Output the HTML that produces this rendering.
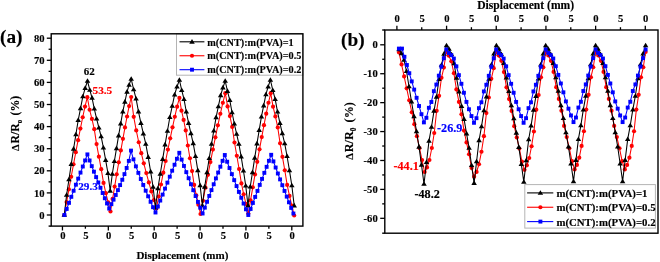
<!DOCTYPE html><html><head><meta charset="utf-8"><style>html,body{margin:0;padding:0;background:#fff;}svg{display:block;filter:blur(0.35px)} text{stroke-width:0.15px}</style></head><body>
<svg width="660" height="262" viewBox="0 0 660 262" font-family='"Liberation Serif", serif' font-weight="bold">
<rect width="660" height="262" fill="#fff"/>
<g clip-path="none">
<path d="M64.3 215L66.6 202.11L68.9 189.36L71.2 176.77L73.5 164.36L75.8 152.16L78.1 140.19L80.4 128.53L82.7 117.26L85 106.56L87.3 97.2L89.62 109.77L91.94 118.92L94.26 129.2L96.58 144.06L98.9 156.64L101.22 169.21L103.54 182.93L105.86 193.21L108.18 202.36L110.5 211.5L112.57 198.97L114.64 186.58L116.71 174.34L118.78 162.28L120.85 150.42L122.92 138.79L124.99 127.45L127.06 116.5L129.13 106.1L131.2 97L133.72 116.85L136.24 130.38L138.76 142.24L141.28 153.13L143.8 163.36L146.32 173.08L148.84 182.41L151.36 191.4L153.88 200.12L156.4 208.6L158.7 196.49L161 184.51L163.3 172.67L165.6 161.01L167.9 149.54L170.2 138.3L172.5 127.34L174.8 116.75L177.1 106.69L179.4 97.9L181.51 110.67L183.62 119.96L185.73 130.41L187.84 145.5L189.95 158.27L192.06 171.04L194.17 184.97L196.28 195.42L198.39 204.71L200.5 214L202.98 200.78L205.46 187.71L207.94 174.8L210.42 162.07L212.9 149.56L215.38 137.29L217.86 125.33L220.34 113.77L222.82 102.8L225.3 93.2L227.6 106.43L229.9 116.06L232.2 126.88L234.5 142.52L236.8 155.76L239.1 168.99L241.4 183.43L243.7 194.25L246 203.88L248.3 213.5L250.54 200.34L252.78 187.32L255.02 174.46L257.26 161.79L259.5 149.32L261.74 137.11L263.98 125.2L266.22 113.68L268.46 102.76L270.7 93.2L273.05 106.65L275.4 116.44L277.75 127.44L280.1 143.34L282.45 156.8L284.8 170.25L287.15 184.93L289.5 195.93L291.85 205.72L294.2 215.5" fill="none" stroke="#ff0000" stroke-width="1.05" stroke-linejoin="round"/>
<circle cx="64.3" cy="215" r="2.1" fill="#ff0000"/>
<circle cx="66.6" cy="202.11" r="2.1" fill="#ff0000"/>
<circle cx="68.9" cy="189.36" r="2.1" fill="#ff0000"/>
<circle cx="71.2" cy="176.77" r="2.1" fill="#ff0000"/>
<circle cx="73.5" cy="164.36" r="2.1" fill="#ff0000"/>
<circle cx="75.8" cy="152.16" r="2.1" fill="#ff0000"/>
<circle cx="78.1" cy="140.19" r="2.1" fill="#ff0000"/>
<circle cx="80.4" cy="128.53" r="2.1" fill="#ff0000"/>
<circle cx="82.7" cy="117.26" r="2.1" fill="#ff0000"/>
<circle cx="85" cy="106.56" r="2.1" fill="#ff0000"/>
<circle cx="87.3" cy="97.2" r="2.1" fill="#ff0000"/>
<circle cx="89.62" cy="109.77" r="2.1" fill="#ff0000"/>
<circle cx="91.94" cy="118.92" r="2.1" fill="#ff0000"/>
<circle cx="94.26" cy="129.2" r="2.1" fill="#ff0000"/>
<circle cx="96.58" cy="144.06" r="2.1" fill="#ff0000"/>
<circle cx="98.9" cy="156.64" r="2.1" fill="#ff0000"/>
<circle cx="101.22" cy="169.21" r="2.1" fill="#ff0000"/>
<circle cx="103.54" cy="182.93" r="2.1" fill="#ff0000"/>
<circle cx="105.86" cy="193.21" r="2.1" fill="#ff0000"/>
<circle cx="108.18" cy="202.36" r="2.1" fill="#ff0000"/>
<circle cx="110.5" cy="211.5" r="2.1" fill="#ff0000"/>
<circle cx="112.57" cy="198.97" r="2.1" fill="#ff0000"/>
<circle cx="114.64" cy="186.58" r="2.1" fill="#ff0000"/>
<circle cx="116.71" cy="174.34" r="2.1" fill="#ff0000"/>
<circle cx="118.78" cy="162.28" r="2.1" fill="#ff0000"/>
<circle cx="120.85" cy="150.42" r="2.1" fill="#ff0000"/>
<circle cx="122.92" cy="138.79" r="2.1" fill="#ff0000"/>
<circle cx="124.99" cy="127.45" r="2.1" fill="#ff0000"/>
<circle cx="127.06" cy="116.5" r="2.1" fill="#ff0000"/>
<circle cx="129.13" cy="106.1" r="2.1" fill="#ff0000"/>
<circle cx="131.2" cy="97" r="2.1" fill="#ff0000"/>
<circle cx="133.72" cy="116.85" r="2.1" fill="#ff0000"/>
<circle cx="136.24" cy="130.38" r="2.1" fill="#ff0000"/>
<circle cx="138.76" cy="142.24" r="2.1" fill="#ff0000"/>
<circle cx="141.28" cy="153.13" r="2.1" fill="#ff0000"/>
<circle cx="143.8" cy="163.36" r="2.1" fill="#ff0000"/>
<circle cx="146.32" cy="173.08" r="2.1" fill="#ff0000"/>
<circle cx="148.84" cy="182.41" r="2.1" fill="#ff0000"/>
<circle cx="151.36" cy="191.4" r="2.1" fill="#ff0000"/>
<circle cx="153.88" cy="200.12" r="2.1" fill="#ff0000"/>
<circle cx="156.4" cy="208.6" r="2.1" fill="#ff0000"/>
<circle cx="158.7" cy="196.49" r="2.1" fill="#ff0000"/>
<circle cx="161" cy="184.51" r="2.1" fill="#ff0000"/>
<circle cx="163.3" cy="172.67" r="2.1" fill="#ff0000"/>
<circle cx="165.6" cy="161.01" r="2.1" fill="#ff0000"/>
<circle cx="167.9" cy="149.54" r="2.1" fill="#ff0000"/>
<circle cx="170.2" cy="138.3" r="2.1" fill="#ff0000"/>
<circle cx="172.5" cy="127.34" r="2.1" fill="#ff0000"/>
<circle cx="174.8" cy="116.75" r="2.1" fill="#ff0000"/>
<circle cx="177.1" cy="106.69" r="2.1" fill="#ff0000"/>
<circle cx="179.4" cy="97.9" r="2.1" fill="#ff0000"/>
<circle cx="181.51" cy="110.67" r="2.1" fill="#ff0000"/>
<circle cx="183.62" cy="119.96" r="2.1" fill="#ff0000"/>
<circle cx="185.73" cy="130.41" r="2.1" fill="#ff0000"/>
<circle cx="187.84" cy="145.5" r="2.1" fill="#ff0000"/>
<circle cx="189.95" cy="158.27" r="2.1" fill="#ff0000"/>
<circle cx="192.06" cy="171.04" r="2.1" fill="#ff0000"/>
<circle cx="194.17" cy="184.97" r="2.1" fill="#ff0000"/>
<circle cx="196.28" cy="195.42" r="2.1" fill="#ff0000"/>
<circle cx="198.39" cy="204.71" r="2.1" fill="#ff0000"/>
<circle cx="200.5" cy="214" r="2.1" fill="#ff0000"/>
<circle cx="202.98" cy="200.78" r="2.1" fill="#ff0000"/>
<circle cx="205.46" cy="187.71" r="2.1" fill="#ff0000"/>
<circle cx="207.94" cy="174.8" r="2.1" fill="#ff0000"/>
<circle cx="210.42" cy="162.07" r="2.1" fill="#ff0000"/>
<circle cx="212.9" cy="149.56" r="2.1" fill="#ff0000"/>
<circle cx="215.38" cy="137.29" r="2.1" fill="#ff0000"/>
<circle cx="217.86" cy="125.33" r="2.1" fill="#ff0000"/>
<circle cx="220.34" cy="113.77" r="2.1" fill="#ff0000"/>
<circle cx="222.82" cy="102.8" r="2.1" fill="#ff0000"/>
<circle cx="225.3" cy="93.2" r="2.1" fill="#ff0000"/>
<circle cx="227.6" cy="106.43" r="2.1" fill="#ff0000"/>
<circle cx="229.9" cy="116.06" r="2.1" fill="#ff0000"/>
<circle cx="232.2" cy="126.88" r="2.1" fill="#ff0000"/>
<circle cx="234.5" cy="142.52" r="2.1" fill="#ff0000"/>
<circle cx="236.8" cy="155.76" r="2.1" fill="#ff0000"/>
<circle cx="239.1" cy="168.99" r="2.1" fill="#ff0000"/>
<circle cx="241.4" cy="183.43" r="2.1" fill="#ff0000"/>
<circle cx="243.7" cy="194.25" r="2.1" fill="#ff0000"/>
<circle cx="246" cy="203.88" r="2.1" fill="#ff0000"/>
<circle cx="248.3" cy="213.5" r="2.1" fill="#ff0000"/>
<circle cx="250.54" cy="200.34" r="2.1" fill="#ff0000"/>
<circle cx="252.78" cy="187.32" r="2.1" fill="#ff0000"/>
<circle cx="255.02" cy="174.46" r="2.1" fill="#ff0000"/>
<circle cx="257.26" cy="161.79" r="2.1" fill="#ff0000"/>
<circle cx="259.5" cy="149.32" r="2.1" fill="#ff0000"/>
<circle cx="261.74" cy="137.11" r="2.1" fill="#ff0000"/>
<circle cx="263.98" cy="125.2" r="2.1" fill="#ff0000"/>
<circle cx="266.22" cy="113.68" r="2.1" fill="#ff0000"/>
<circle cx="268.46" cy="102.76" r="2.1" fill="#ff0000"/>
<circle cx="270.7" cy="93.2" r="2.1" fill="#ff0000"/>
<circle cx="273.05" cy="106.65" r="2.1" fill="#ff0000"/>
<circle cx="275.4" cy="116.44" r="2.1" fill="#ff0000"/>
<circle cx="277.75" cy="127.44" r="2.1" fill="#ff0000"/>
<circle cx="280.1" cy="143.34" r="2.1" fill="#ff0000"/>
<circle cx="282.45" cy="156.8" r="2.1" fill="#ff0000"/>
<circle cx="284.8" cy="170.25" r="2.1" fill="#ff0000"/>
<circle cx="287.15" cy="184.93" r="2.1" fill="#ff0000"/>
<circle cx="289.5" cy="195.93" r="2.1" fill="#ff0000"/>
<circle cx="291.85" cy="205.72" r="2.1" fill="#ff0000"/>
<circle cx="294.2" cy="215.5" r="2.1" fill="#ff0000"/>
<path d="M64.3 215L66.62 194.9L68.94 179.49L71.26 164.08L73.58 148.8L75.9 134.47L78.22 120.13L80.54 108.34L82.86 96.41L85.18 88.1L87.5 81L89.77 89.89L92.04 97.8L94.31 108.78L96.58 118.66L98.85 127.67L101.12 136.45L103.39 147.65L105.66 160.06L107.93 173.23L110.2 190.8L112.3 174.03L114.4 161.17L116.5 148.32L118.6 135.57L120.7 123.61L122.8 111.65L124.9 101.81L127 91.86L129.1 84.93L131.2 79L133.63 89.42L136.06 98.68L138.49 111.54L140.92 123.11L143.35 133.66L145.78 143.94L148.21 157.06L150.64 171.59L153.07 187.02L155.5 207.6L157.89 188.46L160.28 173.79L162.67 159.11L165.06 144.57L167.45 130.91L169.84 117.26L172.23 106.03L174.62 94.67L177.01 86.76L179.4 80L181.7 90.17L184 99.2L186.3 111.75L188.6 123.05L190.9 133.34L193.2 143.38L195.5 156.18L197.8 170.36L200.1 185.42L202.4 205.5L204.68 186.82L206.96 172.51L209.24 158.19L211.52 144L213.8 130.68L216.08 117.35L218.36 106.4L220.64 95.32L222.92 87.6L225.2 81L227.48 91.09L229.76 100.06L232.04 112.52L234.32 123.74L236.6 133.95L238.88 143.92L241.16 156.63L243.44 170.71L245.72 185.66L248 205.6L250.24 186.76L252.48 172.32L254.72 157.87L256.96 143.55L259.2 130.11L261.44 116.68L263.68 105.62L265.92 94.44L268.16 86.66L270.4 80L272.78 90.17L275.16 99.22L277.54 111.78L279.92 123.08L282.3 133.38L284.68 143.43L287.06 156.24L289.44 170.43L291.82 185.5L294.2 205.6" fill="none" stroke="#000" stroke-width="1.05" stroke-linejoin="round"/>
<path d="M64.3 212.24L67.05 216.84L61.55 216.84Z" fill="#000"/>
<path d="M66.62 192.14L69.37 196.74L63.87 196.74Z" fill="#000"/>
<path d="M68.94 176.73L71.69 181.33L66.19 181.33Z" fill="#000"/>
<path d="M71.26 161.32L74.01 165.92L68.51 165.92Z" fill="#000"/>
<path d="M73.58 146.04L76.33 150.64L70.83 150.64Z" fill="#000"/>
<path d="M75.9 131.71L78.65 136.31L73.15 136.31Z" fill="#000"/>
<path d="M78.22 117.37L80.97 121.97L75.47 121.97Z" fill="#000"/>
<path d="M80.54 105.58L83.29 110.18L77.79 110.18Z" fill="#000"/>
<path d="M82.86 93.65L85.61 98.25L80.11 98.25Z" fill="#000"/>
<path d="M85.18 85.34L87.93 89.94L82.43 89.94Z" fill="#000"/>
<path d="M87.5 78.24L90.25 82.84L84.75 82.84Z" fill="#000"/>
<path d="M89.77 87.13L92.52 91.73L87.02 91.73Z" fill="#000"/>
<path d="M92.04 95.04L94.79 99.64L89.29 99.64Z" fill="#000"/>
<path d="M94.31 106.02L97.06 110.62L91.56 110.62Z" fill="#000"/>
<path d="M96.58 115.9L99.33 120.5L93.83 120.5Z" fill="#000"/>
<path d="M98.85 124.91L101.6 129.5L96.1 129.5Z" fill="#000"/>
<path d="M101.12 133.69L103.87 138.29L98.37 138.29Z" fill="#000"/>
<path d="M103.39 144.89L106.14 149.49L100.64 149.49Z" fill="#000"/>
<path d="M105.66 157.3L108.41 161.9L102.91 161.9Z" fill="#000"/>
<path d="M107.93 170.47L110.68 175.07L105.18 175.07Z" fill="#000"/>
<path d="M110.2 188.04L112.95 192.64L107.45 192.64Z" fill="#000"/>
<path d="M112.3 171.27L115.05 175.87L109.55 175.87Z" fill="#000"/>
<path d="M114.4 158.41L117.15 163.01L111.65 163.01Z" fill="#000"/>
<path d="M116.5 145.56L119.25 150.16L113.75 150.16Z" fill="#000"/>
<path d="M118.6 132.81L121.35 137.41L115.85 137.41Z" fill="#000"/>
<path d="M120.7 120.85L123.45 125.45L117.95 125.45Z" fill="#000"/>
<path d="M122.8 108.89L125.55 113.49L120.05 113.49Z" fill="#000"/>
<path d="M124.9 99.05L127.65 103.65L122.15 103.65Z" fill="#000"/>
<path d="M127 89.1L129.75 93.7L124.25 93.7Z" fill="#000"/>
<path d="M129.1 82.17L131.85 86.77L126.35 86.77Z" fill="#000"/>
<path d="M131.2 76.24L133.95 80.84L128.45 80.84Z" fill="#000"/>
<path d="M133.63 86.66L136.38 91.26L130.88 91.26Z" fill="#000"/>
<path d="M136.06 95.92L138.81 100.52L133.31 100.52Z" fill="#000"/>
<path d="M138.49 108.78L141.24 113.38L135.74 113.38Z" fill="#000"/>
<path d="M140.92 120.35L143.67 124.95L138.17 124.95Z" fill="#000"/>
<path d="M143.35 130.9L146.1 135.5L140.6 135.5Z" fill="#000"/>
<path d="M145.78 141.18L148.53 145.78L143.03 145.78Z" fill="#000"/>
<path d="M148.21 154.3L150.96 158.9L145.46 158.9Z" fill="#000"/>
<path d="M150.64 168.83L153.39 173.43L147.89 173.43Z" fill="#000"/>
<path d="M153.07 184.26L155.82 188.86L150.32 188.86Z" fill="#000"/>
<path d="M155.5 204.84L158.25 209.44L152.75 209.44Z" fill="#000"/>
<path d="M157.89 185.7L160.64 190.3L155.14 190.3Z" fill="#000"/>
<path d="M160.28 171.03L163.03 175.63L157.53 175.63Z" fill="#000"/>
<path d="M162.67 156.35L165.42 160.95L159.92 160.95Z" fill="#000"/>
<path d="M165.06 141.81L167.81 146.41L162.31 146.41Z" fill="#000"/>
<path d="M167.45 128.15L170.2 132.75L164.7 132.75Z" fill="#000"/>
<path d="M169.84 114.5L172.59 119.1L167.09 119.1Z" fill="#000"/>
<path d="M172.23 103.27L174.98 107.87L169.48 107.87Z" fill="#000"/>
<path d="M174.62 91.91L177.37 96.51L171.87 96.51Z" fill="#000"/>
<path d="M177.01 84L179.76 88.6L174.26 88.6Z" fill="#000"/>
<path d="M179.4 77.24L182.15 81.84L176.65 81.84Z" fill="#000"/>
<path d="M181.7 87.41L184.45 92.01L178.95 92.01Z" fill="#000"/>
<path d="M184 96.44L186.75 101.04L181.25 101.04Z" fill="#000"/>
<path d="M186.3 108.99L189.05 113.59L183.55 113.59Z" fill="#000"/>
<path d="M188.6 120.29L191.35 124.89L185.85 124.89Z" fill="#000"/>
<path d="M190.9 130.58L193.65 135.18L188.15 135.18Z" fill="#000"/>
<path d="M193.2 140.62L195.95 145.22L190.45 145.22Z" fill="#000"/>
<path d="M195.5 153.42L198.25 158.02L192.75 158.02Z" fill="#000"/>
<path d="M197.8 167.6L200.55 172.2L195.05 172.2Z" fill="#000"/>
<path d="M200.1 182.66L202.85 187.26L197.35 187.26Z" fill="#000"/>
<path d="M202.4 202.74L205.15 207.34L199.65 207.34Z" fill="#000"/>
<path d="M204.68 184.06L207.43 188.66L201.93 188.66Z" fill="#000"/>
<path d="M206.96 169.75L209.71 174.35L204.21 174.35Z" fill="#000"/>
<path d="M209.24 155.43L211.99 160.03L206.49 160.03Z" fill="#000"/>
<path d="M211.52 141.24L214.27 145.84L208.77 145.84Z" fill="#000"/>
<path d="M213.8 127.92L216.55 132.52L211.05 132.52Z" fill="#000"/>
<path d="M216.08 114.59L218.83 119.19L213.33 119.19Z" fill="#000"/>
<path d="M218.36 103.64L221.11 108.24L215.61 108.24Z" fill="#000"/>
<path d="M220.64 92.56L223.39 97.16L217.89 97.16Z" fill="#000"/>
<path d="M222.92 84.84L225.67 89.44L220.17 89.44Z" fill="#000"/>
<path d="M225.2 78.24L227.95 82.84L222.45 82.84Z" fill="#000"/>
<path d="M227.48 88.33L230.23 92.93L224.73 92.93Z" fill="#000"/>
<path d="M229.76 97.3L232.51 101.9L227.01 101.9Z" fill="#000"/>
<path d="M232.04 109.76L234.79 114.36L229.29 114.36Z" fill="#000"/>
<path d="M234.32 120.98L237.07 125.58L231.57 125.58Z" fill="#000"/>
<path d="M236.6 131.19L239.35 135.79L233.85 135.79Z" fill="#000"/>
<path d="M238.88 141.16L241.63 145.76L236.13 145.76Z" fill="#000"/>
<path d="M241.16 153.87L243.91 158.47L238.41 158.47Z" fill="#000"/>
<path d="M243.44 167.95L246.19 172.55L240.69 172.55Z" fill="#000"/>
<path d="M245.72 182.9L248.47 187.5L242.97 187.5Z" fill="#000"/>
<path d="M248 202.84L250.75 207.44L245.25 207.44Z" fill="#000"/>
<path d="M250.24 184L252.99 188.6L247.49 188.6Z" fill="#000"/>
<path d="M252.48 169.56L255.23 174.16L249.73 174.16Z" fill="#000"/>
<path d="M254.72 155.11L257.47 159.71L251.97 159.71Z" fill="#000"/>
<path d="M256.96 140.79L259.71 145.39L254.21 145.39Z" fill="#000"/>
<path d="M259.2 127.35L261.95 131.95L256.45 131.95Z" fill="#000"/>
<path d="M261.44 113.92L264.19 118.52L258.69 118.52Z" fill="#000"/>
<path d="M263.68 102.86L266.43 107.46L260.93 107.46Z" fill="#000"/>
<path d="M265.92 91.68L268.67 96.28L263.17 96.28Z" fill="#000"/>
<path d="M268.16 83.9L270.91 88.5L265.41 88.5Z" fill="#000"/>
<path d="M270.4 77.24L273.15 81.84L267.65 81.84Z" fill="#000"/>
<path d="M272.78 87.41L275.53 92.01L270.03 92.01Z" fill="#000"/>
<path d="M275.16 96.46L277.91 101.06L272.41 101.06Z" fill="#000"/>
<path d="M277.54 109.02L280.29 113.62L274.79 113.62Z" fill="#000"/>
<path d="M279.92 120.32L282.67 124.92L277.17 124.92Z" fill="#000"/>
<path d="M282.3 130.62L285.05 135.22L279.55 135.22Z" fill="#000"/>
<path d="M284.68 140.67L287.43 145.27L281.93 145.27Z" fill="#000"/>
<path d="M287.06 153.48L289.81 158.08L284.31 158.08Z" fill="#000"/>
<path d="M289.44 167.67L292.19 172.27L286.69 172.27Z" fill="#000"/>
<path d="M291.82 182.74L294.57 187.34L289.07 187.34Z" fill="#000"/>
<path d="M294.2 202.84L296.95 207.44L291.45 207.44Z" fill="#000"/>
<path d="M64.4 215L66.7 208.94L69 202.88L71.3 196.82L73.6 190.76L75.9 184.7L78.2 178.64L80.5 172.58L82.8 166.52L85.1 160.46L87.4 154.4L89.58 160.48L91.76 166.15L93.94 171.67L96.12 177.1L98.3 182.46L100.48 187.76L102.66 193.02L104.84 198.25L107.02 203.44L109.2 208.6L111.38 204.19L113.56 199.66L115.74 194.99L117.92 190.14L120.1 185.09L122.28 179.77L124.46 174.11L126.64 167.95L128.82 160.91L131 150.6L133.45 159.34L135.9 166.36L138.35 172.85L140.8 179.01L143.25 184.94L145.7 190.7L148.15 196.31L150.6 201.81L153.05 207.2L155.5 212.5L157.88 206.53L160.26 200.56L162.64 194.59L165.02 188.62L167.4 182.65L169.78 176.68L172.16 170.71L174.54 164.74L176.92 158.77L179.3 152.8L181.63 159.61L183.96 165.96L186.29 172.14L188.62 178.22L190.95 184.22L193.28 190.16L195.61 196.05L197.94 201.9L200.27 207.72L202.6 213.5L204.82 207.65L207.04 201.8L209.26 195.95L211.48 190.1L213.7 184.25L215.92 178.4L218.14 172.55L220.36 166.7L222.58 160.85L224.8 155L227.15 161.73L229.5 168.01L231.85 174.12L234.2 180.13L236.55 186.06L238.9 191.93L241.25 197.76L243.6 203.54L245.95 209.29L248.3 215L250.59 208.98L252.88 202.96L255.17 196.94L257.46 190.92L259.75 184.9L262.04 178.88L264.33 172.86L266.62 166.84L268.91 160.82L271.2 154.8L273.42 161.39L275.64 167.52L277.86 173.5L280.08 179.38L282.3 185.19L284.52 190.93L286.74 196.63L288.96 202.29L291.18 207.91L293.4 213.5" fill="none" stroke="#0000ff" stroke-width="1.05" stroke-linejoin="round"/>
<rect x="62.45" y="213.05" width="3.9" height="3.9" fill="#0000ff"/>
<rect x="64.75" y="206.99" width="3.9" height="3.9" fill="#0000ff"/>
<rect x="67.05" y="200.93" width="3.9" height="3.9" fill="#0000ff"/>
<rect x="69.35" y="194.87" width="3.9" height="3.9" fill="#0000ff"/>
<rect x="71.65" y="188.81" width="3.9" height="3.9" fill="#0000ff"/>
<rect x="73.95" y="182.75" width="3.9" height="3.9" fill="#0000ff"/>
<rect x="76.25" y="176.69" width="3.9" height="3.9" fill="#0000ff"/>
<rect x="78.55" y="170.63" width="3.9" height="3.9" fill="#0000ff"/>
<rect x="80.85" y="164.57" width="3.9" height="3.9" fill="#0000ff"/>
<rect x="83.15" y="158.51" width="3.9" height="3.9" fill="#0000ff"/>
<rect x="85.45" y="152.45" width="3.9" height="3.9" fill="#0000ff"/>
<rect x="87.63" y="158.53" width="3.9" height="3.9" fill="#0000ff"/>
<rect x="89.81" y="164.2" width="3.9" height="3.9" fill="#0000ff"/>
<rect x="91.99" y="169.72" width="3.9" height="3.9" fill="#0000ff"/>
<rect x="94.17" y="175.15" width="3.9" height="3.9" fill="#0000ff"/>
<rect x="96.35" y="180.51" width="3.9" height="3.9" fill="#0000ff"/>
<rect x="98.53" y="185.81" width="3.9" height="3.9" fill="#0000ff"/>
<rect x="100.71" y="191.07" width="3.9" height="3.9" fill="#0000ff"/>
<rect x="102.89" y="196.3" width="3.9" height="3.9" fill="#0000ff"/>
<rect x="105.07" y="201.49" width="3.9" height="3.9" fill="#0000ff"/>
<rect x="107.25" y="206.65" width="3.9" height="3.9" fill="#0000ff"/>
<rect x="109.43" y="202.24" width="3.9" height="3.9" fill="#0000ff"/>
<rect x="111.61" y="197.71" width="3.9" height="3.9" fill="#0000ff"/>
<rect x="113.79" y="193.04" width="3.9" height="3.9" fill="#0000ff"/>
<rect x="115.97" y="188.19" width="3.9" height="3.9" fill="#0000ff"/>
<rect x="118.15" y="183.14" width="3.9" height="3.9" fill="#0000ff"/>
<rect x="120.33" y="177.82" width="3.9" height="3.9" fill="#0000ff"/>
<rect x="122.51" y="172.16" width="3.9" height="3.9" fill="#0000ff"/>
<rect x="124.69" y="166" width="3.9" height="3.9" fill="#0000ff"/>
<rect x="126.87" y="158.96" width="3.9" height="3.9" fill="#0000ff"/>
<rect x="129.05" y="148.65" width="3.9" height="3.9" fill="#0000ff"/>
<rect x="131.5" y="157.39" width="3.9" height="3.9" fill="#0000ff"/>
<rect x="133.95" y="164.41" width="3.9" height="3.9" fill="#0000ff"/>
<rect x="136.4" y="170.9" width="3.9" height="3.9" fill="#0000ff"/>
<rect x="138.85" y="177.06" width="3.9" height="3.9" fill="#0000ff"/>
<rect x="141.3" y="182.99" width="3.9" height="3.9" fill="#0000ff"/>
<rect x="143.75" y="188.75" width="3.9" height="3.9" fill="#0000ff"/>
<rect x="146.2" y="194.36" width="3.9" height="3.9" fill="#0000ff"/>
<rect x="148.65" y="199.86" width="3.9" height="3.9" fill="#0000ff"/>
<rect x="151.1" y="205.25" width="3.9" height="3.9" fill="#0000ff"/>
<rect x="153.55" y="210.55" width="3.9" height="3.9" fill="#0000ff"/>
<rect x="155.93" y="204.58" width="3.9" height="3.9" fill="#0000ff"/>
<rect x="158.31" y="198.61" width="3.9" height="3.9" fill="#0000ff"/>
<rect x="160.69" y="192.64" width="3.9" height="3.9" fill="#0000ff"/>
<rect x="163.07" y="186.67" width="3.9" height="3.9" fill="#0000ff"/>
<rect x="165.45" y="180.7" width="3.9" height="3.9" fill="#0000ff"/>
<rect x="167.83" y="174.73" width="3.9" height="3.9" fill="#0000ff"/>
<rect x="170.21" y="168.76" width="3.9" height="3.9" fill="#0000ff"/>
<rect x="172.59" y="162.79" width="3.9" height="3.9" fill="#0000ff"/>
<rect x="174.97" y="156.82" width="3.9" height="3.9" fill="#0000ff"/>
<rect x="177.35" y="150.85" width="3.9" height="3.9" fill="#0000ff"/>
<rect x="179.68" y="157.66" width="3.9" height="3.9" fill="#0000ff"/>
<rect x="182.01" y="164.01" width="3.9" height="3.9" fill="#0000ff"/>
<rect x="184.34" y="170.19" width="3.9" height="3.9" fill="#0000ff"/>
<rect x="186.67" y="176.27" width="3.9" height="3.9" fill="#0000ff"/>
<rect x="189" y="182.27" width="3.9" height="3.9" fill="#0000ff"/>
<rect x="191.33" y="188.21" width="3.9" height="3.9" fill="#0000ff"/>
<rect x="193.66" y="194.1" width="3.9" height="3.9" fill="#0000ff"/>
<rect x="195.99" y="199.95" width="3.9" height="3.9" fill="#0000ff"/>
<rect x="198.32" y="205.77" width="3.9" height="3.9" fill="#0000ff"/>
<rect x="200.65" y="211.55" width="3.9" height="3.9" fill="#0000ff"/>
<rect x="202.87" y="205.7" width="3.9" height="3.9" fill="#0000ff"/>
<rect x="205.09" y="199.85" width="3.9" height="3.9" fill="#0000ff"/>
<rect x="207.31" y="194" width="3.9" height="3.9" fill="#0000ff"/>
<rect x="209.53" y="188.15" width="3.9" height="3.9" fill="#0000ff"/>
<rect x="211.75" y="182.3" width="3.9" height="3.9" fill="#0000ff"/>
<rect x="213.97" y="176.45" width="3.9" height="3.9" fill="#0000ff"/>
<rect x="216.19" y="170.6" width="3.9" height="3.9" fill="#0000ff"/>
<rect x="218.41" y="164.75" width="3.9" height="3.9" fill="#0000ff"/>
<rect x="220.63" y="158.9" width="3.9" height="3.9" fill="#0000ff"/>
<rect x="222.85" y="153.05" width="3.9" height="3.9" fill="#0000ff"/>
<rect x="225.2" y="159.78" width="3.9" height="3.9" fill="#0000ff"/>
<rect x="227.55" y="166.06" width="3.9" height="3.9" fill="#0000ff"/>
<rect x="229.9" y="172.17" width="3.9" height="3.9" fill="#0000ff"/>
<rect x="232.25" y="178.18" width="3.9" height="3.9" fill="#0000ff"/>
<rect x="234.6" y="184.11" width="3.9" height="3.9" fill="#0000ff"/>
<rect x="236.95" y="189.98" width="3.9" height="3.9" fill="#0000ff"/>
<rect x="239.3" y="195.81" width="3.9" height="3.9" fill="#0000ff"/>
<rect x="241.65" y="201.59" width="3.9" height="3.9" fill="#0000ff"/>
<rect x="244" y="207.34" width="3.9" height="3.9" fill="#0000ff"/>
<rect x="246.35" y="213.05" width="3.9" height="3.9" fill="#0000ff"/>
<rect x="248.64" y="207.03" width="3.9" height="3.9" fill="#0000ff"/>
<rect x="250.93" y="201.01" width="3.9" height="3.9" fill="#0000ff"/>
<rect x="253.22" y="194.99" width="3.9" height="3.9" fill="#0000ff"/>
<rect x="255.51" y="188.97" width="3.9" height="3.9" fill="#0000ff"/>
<rect x="257.8" y="182.95" width="3.9" height="3.9" fill="#0000ff"/>
<rect x="260.09" y="176.93" width="3.9" height="3.9" fill="#0000ff"/>
<rect x="262.38" y="170.91" width="3.9" height="3.9" fill="#0000ff"/>
<rect x="264.67" y="164.89" width="3.9" height="3.9" fill="#0000ff"/>
<rect x="266.96" y="158.87" width="3.9" height="3.9" fill="#0000ff"/>
<rect x="269.25" y="152.85" width="3.9" height="3.9" fill="#0000ff"/>
<rect x="271.47" y="159.44" width="3.9" height="3.9" fill="#0000ff"/>
<rect x="273.69" y="165.57" width="3.9" height="3.9" fill="#0000ff"/>
<rect x="275.91" y="171.55" width="3.9" height="3.9" fill="#0000ff"/>
<rect x="278.13" y="177.43" width="3.9" height="3.9" fill="#0000ff"/>
<rect x="280.35" y="183.24" width="3.9" height="3.9" fill="#0000ff"/>
<rect x="282.57" y="188.98" width="3.9" height="3.9" fill="#0000ff"/>
<rect x="284.79" y="194.68" width="3.9" height="3.9" fill="#0000ff"/>
<rect x="287.01" y="200.34" width="3.9" height="3.9" fill="#0000ff"/>
<rect x="289.23" y="205.96" width="3.9" height="3.9" fill="#0000ff"/>
<rect x="291.45" y="211.55" width="3.9" height="3.9" fill="#0000ff"/>
</g>
<rect x="176.5" y="33.8" width="126.39999999999998" height="41.400000000000006" fill="#fff" stroke="#b4b4b4" stroke-width="1"/>
<line x1="179.5" y1="41.8" x2="204.4" y2="41.8" stroke="#000" stroke-width="1.1"/>
<path d="M192 39.04L194.75 43.64L189.25 43.64Z" fill="#000"/>
<text x="207.2" y="45.5" font-size="10.25" text-anchor="start" fill="#000" stroke="#000" >m(CNT):m(PVA)=1</text>
<line x1="179.5" y1="55.75" x2="204.4" y2="55.75" stroke="#ff0000" stroke-width="1.1"/>
<circle cx="192" cy="55.75" r="2.1" fill="#ff0000"/>
<text x="207.2" y="59.45" font-size="10.25" text-anchor="start" fill="#000" stroke="#000" >m(CNT):m(PVA)=0.5</text>
<line x1="179.5" y1="69.7" x2="204.4" y2="69.7" stroke="#0000ff" stroke-width="1.1"/>
<rect x="190.05" y="67.75" width="3.9" height="3.9" fill="#0000ff"/>
<text x="207.2" y="73.4" font-size="10.25" text-anchor="start" fill="#000" stroke="#000" >m(CNT):m(PVA)=0.2</text>
<rect x="51.2" y="33.8" width="251.7" height="192.3" fill="none" stroke="#000" stroke-width="1.4"/>
<line x1="46.8" y1="215" x2="51.2" y2="215" stroke="#000" stroke-width="1.3"/>
<text x="44.6" y="218.6" font-size="10.6" text-anchor="end" fill="#000" stroke="#000" >0</text>
<line x1="46.8" y1="192.9" x2="51.2" y2="192.9" stroke="#000" stroke-width="1.3"/>
<text x="44.6" y="196.5" font-size="10.6" text-anchor="end" fill="#000" stroke="#000" >10</text>
<line x1="46.8" y1="170.8" x2="51.2" y2="170.8" stroke="#000" stroke-width="1.3"/>
<text x="44.6" y="174.4" font-size="10.6" text-anchor="end" fill="#000" stroke="#000" >20</text>
<line x1="46.8" y1="148.7" x2="51.2" y2="148.7" stroke="#000" stroke-width="1.3"/>
<text x="44.6" y="152.3" font-size="10.6" text-anchor="end" fill="#000" stroke="#000" >30</text>
<line x1="46.8" y1="126.6" x2="51.2" y2="126.6" stroke="#000" stroke-width="1.3"/>
<text x="44.6" y="130.2" font-size="10.6" text-anchor="end" fill="#000" stroke="#000" >40</text>
<line x1="46.8" y1="104.5" x2="51.2" y2="104.5" stroke="#000" stroke-width="1.3"/>
<text x="44.6" y="108.1" font-size="10.6" text-anchor="end" fill="#000" stroke="#000" >50</text>
<line x1="46.8" y1="82.4" x2="51.2" y2="82.4" stroke="#000" stroke-width="1.3"/>
<text x="44.6" y="86" font-size="10.6" text-anchor="end" fill="#000" stroke="#000" >60</text>
<line x1="46.8" y1="60.3" x2="51.2" y2="60.3" stroke="#000" stroke-width="1.3"/>
<text x="44.6" y="63.9" font-size="10.6" text-anchor="end" fill="#000" stroke="#000" >70</text>
<line x1="46.8" y1="38.2" x2="51.2" y2="38.2" stroke="#000" stroke-width="1.3"/>
<text x="44.6" y="41.8" font-size="10.6" text-anchor="end" fill="#000" stroke="#000" >80</text>
<line x1="48.6" y1="226.1" x2="51.2" y2="226.1" stroke="#000" stroke-width="1.4"/>
<line x1="48.6" y1="203.95" x2="51.2" y2="203.95" stroke="#000" stroke-width="1.3"/>
<line x1="48.6" y1="181.85" x2="51.2" y2="181.85" stroke="#000" stroke-width="1.3"/>
<line x1="48.6" y1="159.75" x2="51.2" y2="159.75" stroke="#000" stroke-width="1.3"/>
<line x1="48.6" y1="137.65" x2="51.2" y2="137.65" stroke="#000" stroke-width="1.3"/>
<line x1="48.6" y1="115.55" x2="51.2" y2="115.55" stroke="#000" stroke-width="1.3"/>
<line x1="48.6" y1="93.45" x2="51.2" y2="93.45" stroke="#000" stroke-width="1.3"/>
<line x1="48.6" y1="71.35" x2="51.2" y2="71.35" stroke="#000" stroke-width="1.3"/>
<line x1="48.6" y1="49.25" x2="51.2" y2="49.25" stroke="#000" stroke-width="1.3"/>
<line x1="62.45" y1="226.1" x2="62.45" y2="230.5" stroke="#000" stroke-width="1.3"/>
<text x="62.85" y="239.1" font-size="10.6" text-anchor="middle" fill="#000" stroke="#000" >0</text>
<line x1="85.39" y1="226.1" x2="85.39" y2="228.7" stroke="#000" stroke-width="1.3"/>
<text x="85.79" y="239.1" font-size="10.6" text-anchor="middle" fill="#000" stroke="#000" >5</text>
<line x1="108.32" y1="226.1" x2="108.32" y2="230.5" stroke="#000" stroke-width="1.3"/>
<text x="108.72" y="239.1" font-size="10.6" text-anchor="middle" fill="#000" stroke="#000" >0</text>
<line x1="131.25" y1="226.1" x2="131.25" y2="228.7" stroke="#000" stroke-width="1.3"/>
<text x="131.66" y="239.1" font-size="10.6" text-anchor="middle" fill="#000" stroke="#000" >5</text>
<line x1="154.19" y1="226.1" x2="154.19" y2="230.5" stroke="#000" stroke-width="1.3"/>
<text x="154.59" y="239.1" font-size="10.6" text-anchor="middle" fill="#000" stroke="#000" >0</text>
<line x1="177.12" y1="226.1" x2="177.12" y2="228.7" stroke="#000" stroke-width="1.3"/>
<text x="177.53" y="239.1" font-size="10.6" text-anchor="middle" fill="#000" stroke="#000" >5</text>
<line x1="200.06" y1="226.1" x2="200.06" y2="230.5" stroke="#000" stroke-width="1.3"/>
<text x="200.46" y="239.1" font-size="10.6" text-anchor="middle" fill="#000" stroke="#000" >0</text>
<line x1="223" y1="226.1" x2="223" y2="228.7" stroke="#000" stroke-width="1.3"/>
<text x="223.4" y="239.1" font-size="10.6" text-anchor="middle" fill="#000" stroke="#000" >5</text>
<line x1="245.93" y1="226.1" x2="245.93" y2="230.5" stroke="#000" stroke-width="1.3"/>
<text x="246.33" y="239.1" font-size="10.6" text-anchor="middle" fill="#000" stroke="#000" >0</text>
<line x1="268.87" y1="226.1" x2="268.87" y2="228.7" stroke="#000" stroke-width="1.3"/>
<text x="269.26" y="239.1" font-size="10.6" text-anchor="middle" fill="#000" stroke="#000" >5</text>
<line x1="291.8" y1="226.1" x2="291.8" y2="230.5" stroke="#000" stroke-width="1.3"/>
<text x="292.2" y="239.1" font-size="10.6" text-anchor="middle" fill="#000" stroke="#000" >0</text>
<text x="136.4" y="259" font-size="11" text-anchor="start" fill="#000" stroke="#000" >Displacement (mm)</text>
<text x="0" y="43" font-size="19.3" text-anchor="start" fill="#000" stroke="#000" >(a)</text>
<text transform="translate(19.2,151.0) rotate(-90)" font-size="11.8" stroke="#000"><tspan font-size="10.6">Δ</tspan><tspan dx="0.9">R/R</tspan><tspan font-size="7" dy="2.9">0</tspan><tspan dy="-2.9" dx="1.2"> (%)</tspan></text>
<text x="89.2" y="75.2" font-size="11" text-anchor="middle" fill="#000" stroke="#000" >62</text>
<text x="92.5" y="93.6" font-size="11.3" text-anchor="start" fill="#ff0000" stroke="#ff0000" >53.5</text>
<text x="78.2" y="189.9" font-size="11.2" text-anchor="start" fill="#0000ff" stroke="#0000ff" >29.3</text>
<path d="M399 52.5L401.56 64.45L404.12 76.4L406.68 88.35L409.24 100.3L411.8 112.25L414.36 124.2L416.92 136.15L419.48 148.1L422.04 160.05L424.6 172L427.01 167.44L429.42 160L431.83 148L434.24 133L436.66 110.8L439.07 95.8L441.48 77.8L443.89 67.6L446.3 52L448.83 55.74L451.35 61.35L453.88 73.2L456.41 89.41L458.94 101.88L461.46 114.35L463.99 130.56L466.52 142.41L469.05 154.25L471.57 167.97L474.1 176.7L476.56 171.96L479.01 164.23L481.47 151.76L483.92 136.17L486.38 113.1L488.83 97.52L491.29 78.81L493.74 68.21L496.2 52L498.77 55.53L501.35 60.84L503.92 72.03L506.49 87.34L509.06 99.12L511.64 110.9L514.21 126.21L516.78 137.41L519.35 148.6L521.93 161.55L524.5 169.8L526.86 165.32L529.21 158.02L531.57 146.24L533.92 131.52L536.28 109.72L538.63 95L540.99 77.33L543.34 67.31L545.7 52L548.33 55.52L550.95 60.8L553.58 71.96L556.21 87.22L558.84 98.96L561.46 110.7L564.09 125.96L566.72 137.12L569.35 148.27L571.97 161.18L574.6 169.4L576.93 164.94L579.27 157.66L581.6 145.92L583.93 131.25L586.27 109.53L588.6 94.85L590.93 77.24L593.27 67.26L595.6 52L598.25 55.52L600.91 60.8L603.56 71.96L606.22 87.22L608.87 98.96L611.53 110.7L614.18 125.96L616.84 137.12L619.49 148.27L622.15 161.18L624.8 169.4L627.11 164.94L629.42 157.66L631.73 145.92L634.04 131.25L636.36 109.53L638.67 94.85L640.98 77.24L643.29 67.26L645.6 52" fill="none" stroke="#ff0000" stroke-width="1.05" stroke-linejoin="round"/>
<circle cx="399" cy="52.5" r="2.1" fill="#ff0000"/>
<circle cx="401.56" cy="64.45" r="2.1" fill="#ff0000"/>
<circle cx="404.12" cy="76.4" r="2.1" fill="#ff0000"/>
<circle cx="406.68" cy="88.35" r="2.1" fill="#ff0000"/>
<circle cx="409.24" cy="100.3" r="2.1" fill="#ff0000"/>
<circle cx="411.8" cy="112.25" r="2.1" fill="#ff0000"/>
<circle cx="414.36" cy="124.2" r="2.1" fill="#ff0000"/>
<circle cx="416.92" cy="136.15" r="2.1" fill="#ff0000"/>
<circle cx="419.48" cy="148.1" r="2.1" fill="#ff0000"/>
<circle cx="422.04" cy="160.05" r="2.1" fill="#ff0000"/>
<circle cx="424.6" cy="172" r="2.1" fill="#ff0000"/>
<circle cx="427.01" cy="167.44" r="2.1" fill="#ff0000"/>
<circle cx="429.42" cy="160" r="2.1" fill="#ff0000"/>
<circle cx="431.83" cy="148" r="2.1" fill="#ff0000"/>
<circle cx="434.24" cy="133" r="2.1" fill="#ff0000"/>
<circle cx="436.66" cy="110.8" r="2.1" fill="#ff0000"/>
<circle cx="439.07" cy="95.8" r="2.1" fill="#ff0000"/>
<circle cx="441.48" cy="77.8" r="2.1" fill="#ff0000"/>
<circle cx="443.89" cy="67.6" r="2.1" fill="#ff0000"/>
<circle cx="446.3" cy="52" r="2.1" fill="#ff0000"/>
<circle cx="448.83" cy="55.74" r="2.1" fill="#ff0000"/>
<circle cx="451.35" cy="61.35" r="2.1" fill="#ff0000"/>
<circle cx="453.88" cy="73.2" r="2.1" fill="#ff0000"/>
<circle cx="456.41" cy="89.41" r="2.1" fill="#ff0000"/>
<circle cx="458.94" cy="101.88" r="2.1" fill="#ff0000"/>
<circle cx="461.46" cy="114.35" r="2.1" fill="#ff0000"/>
<circle cx="463.99" cy="130.56" r="2.1" fill="#ff0000"/>
<circle cx="466.52" cy="142.41" r="2.1" fill="#ff0000"/>
<circle cx="469.05" cy="154.25" r="2.1" fill="#ff0000"/>
<circle cx="471.57" cy="167.97" r="2.1" fill="#ff0000"/>
<circle cx="474.1" cy="176.7" r="2.1" fill="#ff0000"/>
<circle cx="476.56" cy="171.96" r="2.1" fill="#ff0000"/>
<circle cx="479.01" cy="164.23" r="2.1" fill="#ff0000"/>
<circle cx="481.47" cy="151.76" r="2.1" fill="#ff0000"/>
<circle cx="483.92" cy="136.17" r="2.1" fill="#ff0000"/>
<circle cx="486.38" cy="113.1" r="2.1" fill="#ff0000"/>
<circle cx="488.83" cy="97.52" r="2.1" fill="#ff0000"/>
<circle cx="491.29" cy="78.81" r="2.1" fill="#ff0000"/>
<circle cx="493.74" cy="68.21" r="2.1" fill="#ff0000"/>
<circle cx="496.2" cy="52" r="2.1" fill="#ff0000"/>
<circle cx="498.77" cy="55.53" r="2.1" fill="#ff0000"/>
<circle cx="501.35" cy="60.84" r="2.1" fill="#ff0000"/>
<circle cx="503.92" cy="72.03" r="2.1" fill="#ff0000"/>
<circle cx="506.49" cy="87.34" r="2.1" fill="#ff0000"/>
<circle cx="509.06" cy="99.12" r="2.1" fill="#ff0000"/>
<circle cx="511.64" cy="110.9" r="2.1" fill="#ff0000"/>
<circle cx="514.21" cy="126.21" r="2.1" fill="#ff0000"/>
<circle cx="516.78" cy="137.41" r="2.1" fill="#ff0000"/>
<circle cx="519.35" cy="148.6" r="2.1" fill="#ff0000"/>
<circle cx="521.93" cy="161.55" r="2.1" fill="#ff0000"/>
<circle cx="524.5" cy="169.8" r="2.1" fill="#ff0000"/>
<circle cx="526.86" cy="165.32" r="2.1" fill="#ff0000"/>
<circle cx="529.21" cy="158.02" r="2.1" fill="#ff0000"/>
<circle cx="531.57" cy="146.24" r="2.1" fill="#ff0000"/>
<circle cx="533.92" cy="131.52" r="2.1" fill="#ff0000"/>
<circle cx="536.28" cy="109.72" r="2.1" fill="#ff0000"/>
<circle cx="538.63" cy="95" r="2.1" fill="#ff0000"/>
<circle cx="540.99" cy="77.33" r="2.1" fill="#ff0000"/>
<circle cx="543.34" cy="67.31" r="2.1" fill="#ff0000"/>
<circle cx="545.7" cy="52" r="2.1" fill="#ff0000"/>
<circle cx="548.33" cy="55.52" r="2.1" fill="#ff0000"/>
<circle cx="550.95" cy="60.8" r="2.1" fill="#ff0000"/>
<circle cx="553.58" cy="71.96" r="2.1" fill="#ff0000"/>
<circle cx="556.21" cy="87.22" r="2.1" fill="#ff0000"/>
<circle cx="558.84" cy="98.96" r="2.1" fill="#ff0000"/>
<circle cx="561.46" cy="110.7" r="2.1" fill="#ff0000"/>
<circle cx="564.09" cy="125.96" r="2.1" fill="#ff0000"/>
<circle cx="566.72" cy="137.12" r="2.1" fill="#ff0000"/>
<circle cx="569.35" cy="148.27" r="2.1" fill="#ff0000"/>
<circle cx="571.97" cy="161.18" r="2.1" fill="#ff0000"/>
<circle cx="574.6" cy="169.4" r="2.1" fill="#ff0000"/>
<circle cx="576.93" cy="164.94" r="2.1" fill="#ff0000"/>
<circle cx="579.27" cy="157.66" r="2.1" fill="#ff0000"/>
<circle cx="581.6" cy="145.92" r="2.1" fill="#ff0000"/>
<circle cx="583.93" cy="131.25" r="2.1" fill="#ff0000"/>
<circle cx="586.27" cy="109.53" r="2.1" fill="#ff0000"/>
<circle cx="588.6" cy="94.85" r="2.1" fill="#ff0000"/>
<circle cx="590.93" cy="77.24" r="2.1" fill="#ff0000"/>
<circle cx="593.27" cy="67.26" r="2.1" fill="#ff0000"/>
<circle cx="595.6" cy="52" r="2.1" fill="#ff0000"/>
<circle cx="598.25" cy="55.52" r="2.1" fill="#ff0000"/>
<circle cx="600.91" cy="60.8" r="2.1" fill="#ff0000"/>
<circle cx="603.56" cy="71.96" r="2.1" fill="#ff0000"/>
<circle cx="606.22" cy="87.22" r="2.1" fill="#ff0000"/>
<circle cx="608.87" cy="98.96" r="2.1" fill="#ff0000"/>
<circle cx="611.53" cy="110.7" r="2.1" fill="#ff0000"/>
<circle cx="614.18" cy="125.96" r="2.1" fill="#ff0000"/>
<circle cx="616.84" cy="137.12" r="2.1" fill="#ff0000"/>
<circle cx="619.49" cy="148.27" r="2.1" fill="#ff0000"/>
<circle cx="622.15" cy="161.18" r="2.1" fill="#ff0000"/>
<circle cx="624.8" cy="169.4" r="2.1" fill="#ff0000"/>
<circle cx="627.11" cy="164.94" r="2.1" fill="#ff0000"/>
<circle cx="629.42" cy="157.66" r="2.1" fill="#ff0000"/>
<circle cx="631.73" cy="145.92" r="2.1" fill="#ff0000"/>
<circle cx="634.04" cy="131.25" r="2.1" fill="#ff0000"/>
<circle cx="636.36" cy="109.53" r="2.1" fill="#ff0000"/>
<circle cx="638.67" cy="94.85" r="2.1" fill="#ff0000"/>
<circle cx="640.98" cy="77.24" r="2.1" fill="#ff0000"/>
<circle cx="643.29" cy="67.26" r="2.1" fill="#ff0000"/>
<circle cx="645.6" cy="52" r="2.1" fill="#ff0000"/>
<path d="M399 49.5L401.5 53.4L404 59.99L406.5 71.22L409 86.49L411.5 101.62L414 116.35L416.5 131.34L419 146.88L421.5 164.83L424 184L426.5 162.26L429 140.93L431.5 126.94L434 110.87L436.5 96.88L439 79.16L441.5 64.89L444 53.81L446.5 45.5L449.01 48.94L451.52 54.44L454.03 63.39L456.54 77.84L459.05 91.6L461.55 106.04L464.06 119.12L466.57 133.56L469.08 148.01L471.59 165.21L474.1 183.1L476.58 161.5L479.06 140.31L481.53 126.41L484.01 110.45L486.49 96.55L488.97 78.94L491.44 64.76L493.92 53.76L496.4 45.5L498.89 48.91L501.38 54.37L503.87 63.23L506.36 77.55L508.85 91.19L511.35 105.52L513.84 118.47L516.33 132.8L518.82 147.12L521.31 164.17L523.8 181.9L526.23 160.49L528.67 139.48L531.1 125.7L533.53 109.88L535.97 96.1L538.4 78.65L540.83 64.6L543.27 53.68L545.7 45.5L548.23 48.9L550.75 54.33L553.28 63.17L555.81 77.44L558.34 91.03L560.86 105.3L563.39 118.21L565.92 132.48L568.45 146.75L570.97 163.73L573.5 181.4L575.96 160.06L578.41 139.14L580.87 125.41L583.32 109.64L585.78 95.92L588.23 78.52L590.69 64.53L593.14 53.65L595.6 45.5L598.05 48.9L600.51 54.33L602.96 63.17L605.42 77.44L607.87 91.03L610.33 105.3L612.78 118.21L615.24 132.48L617.69 146.75L620.15 163.73L622.6 181.4L625.16 160.06L627.71 139.14L630.27 125.41L632.82 109.64L635.38 95.92L637.93 78.52L640.49 64.53L643.04 53.65L645.6 45.5" fill="none" stroke="#000" stroke-width="1.05" stroke-linejoin="round"/>
<path d="M399 46.74L401.75 51.34L396.25 51.34Z" fill="#000"/>
<path d="M401.5 50.64L404.25 55.24L398.75 55.24Z" fill="#000"/>
<path d="M404 57.23L406.75 61.83L401.25 61.83Z" fill="#000"/>
<path d="M406.5 68.46L409.25 73.06L403.75 73.06Z" fill="#000"/>
<path d="M409 83.73L411.75 88.33L406.25 88.33Z" fill="#000"/>
<path d="M411.5 98.86L414.25 103.46L408.75 103.46Z" fill="#000"/>
<path d="M414 113.59L416.75 118.19L411.25 118.19Z" fill="#000"/>
<path d="M416.5 128.58L419.25 133.18L413.75 133.18Z" fill="#000"/>
<path d="M419 144.12L421.75 148.72L416.25 148.72Z" fill="#000"/>
<path d="M421.5 162.07L424.25 166.67L418.75 166.67Z" fill="#000"/>
<path d="M424 181.24L426.75 185.84L421.25 185.84Z" fill="#000"/>
<path d="M426.5 159.5L429.25 164.1L423.75 164.1Z" fill="#000"/>
<path d="M429 138.17L431.75 142.77L426.25 142.77Z" fill="#000"/>
<path d="M431.5 124.18L434.25 128.78L428.75 128.78Z" fill="#000"/>
<path d="M434 108.11L436.75 112.71L431.25 112.71Z" fill="#000"/>
<path d="M436.5 94.12L439.25 98.72L433.75 98.72Z" fill="#000"/>
<path d="M439 76.4L441.75 81L436.25 81Z" fill="#000"/>
<path d="M441.5 62.13L444.25 66.73L438.75 66.73Z" fill="#000"/>
<path d="M444 51.05L446.75 55.65L441.25 55.65Z" fill="#000"/>
<path d="M446.5 42.74L449.25 47.34L443.75 47.34Z" fill="#000"/>
<path d="M449.01 46.18L451.76 50.78L446.26 50.78Z" fill="#000"/>
<path d="M451.52 51.68L454.27 56.28L448.77 56.28Z" fill="#000"/>
<path d="M454.03 60.63L456.78 65.23L451.28 65.23Z" fill="#000"/>
<path d="M456.54 75.08L459.29 79.68L453.79 79.68Z" fill="#000"/>
<path d="M459.05 88.84L461.8 93.44L456.3 93.44Z" fill="#000"/>
<path d="M461.55 103.28L464.3 107.88L458.8 107.88Z" fill="#000"/>
<path d="M464.06 116.36L466.81 120.96L461.31 120.96Z" fill="#000"/>
<path d="M466.57 130.8L469.32 135.4L463.82 135.4Z" fill="#000"/>
<path d="M469.08 145.25L471.83 149.85L466.33 149.85Z" fill="#000"/>
<path d="M471.59 162.45L474.34 167.05L468.84 167.05Z" fill="#000"/>
<path d="M474.1 180.34L476.85 184.94L471.35 184.94Z" fill="#000"/>
<path d="M476.58 158.74L479.33 163.34L473.83 163.34Z" fill="#000"/>
<path d="M479.06 137.55L481.81 142.15L476.31 142.15Z" fill="#000"/>
<path d="M481.53 123.65L484.28 128.25L478.78 128.25Z" fill="#000"/>
<path d="M484.01 107.69L486.76 112.29L481.26 112.29Z" fill="#000"/>
<path d="M486.49 93.79L489.24 98.39L483.74 98.39Z" fill="#000"/>
<path d="M488.97 76.18L491.72 80.78L486.22 80.78Z" fill="#000"/>
<path d="M491.44 62L494.19 66.6L488.69 66.6Z" fill="#000"/>
<path d="M493.92 51L496.67 55.6L491.17 55.6Z" fill="#000"/>
<path d="M496.4 42.74L499.15 47.34L493.65 47.34Z" fill="#000"/>
<path d="M498.89 46.15L501.64 50.75L496.14 50.75Z" fill="#000"/>
<path d="M501.38 51.61L504.13 56.21L498.63 56.21Z" fill="#000"/>
<path d="M503.87 60.47L506.62 65.07L501.12 65.07Z" fill="#000"/>
<path d="M506.36 74.79L509.11 79.39L503.61 79.39Z" fill="#000"/>
<path d="M508.85 88.43L511.6 93.03L506.1 93.03Z" fill="#000"/>
<path d="M511.35 102.76L514.1 107.36L508.6 107.36Z" fill="#000"/>
<path d="M513.84 115.71L516.59 120.31L511.09 120.31Z" fill="#000"/>
<path d="M516.33 130.04L519.08 134.64L513.58 134.64Z" fill="#000"/>
<path d="M518.82 144.36L521.57 148.96L516.07 148.96Z" fill="#000"/>
<path d="M521.31 161.41L524.06 166.01L518.56 166.01Z" fill="#000"/>
<path d="M523.8 179.14L526.55 183.74L521.05 183.74Z" fill="#000"/>
<path d="M526.23 157.73L528.98 162.33L523.48 162.33Z" fill="#000"/>
<path d="M528.67 136.72L531.42 141.32L525.92 141.32Z" fill="#000"/>
<path d="M531.1 122.94L533.85 127.54L528.35 127.54Z" fill="#000"/>
<path d="M533.53 107.12L536.28 111.72L530.78 111.72Z" fill="#000"/>
<path d="M535.97 93.34L538.72 97.94L533.22 97.94Z" fill="#000"/>
<path d="M538.4 75.89L541.15 80.49L535.65 80.49Z" fill="#000"/>
<path d="M540.83 61.84L543.58 66.44L538.08 66.44Z" fill="#000"/>
<path d="M543.27 50.92L546.02 55.52L540.52 55.52Z" fill="#000"/>
<path d="M545.7 42.74L548.45 47.34L542.95 47.34Z" fill="#000"/>
<path d="M548.23 46.14L550.98 50.74L545.48 50.74Z" fill="#000"/>
<path d="M550.75 51.57L553.5 56.17L548 56.17Z" fill="#000"/>
<path d="M553.28 60.41L556.03 65.01L550.53 65.01Z" fill="#000"/>
<path d="M555.81 74.68L558.56 79.28L553.06 79.28Z" fill="#000"/>
<path d="M558.34 88.27L561.09 92.87L555.59 92.87Z" fill="#000"/>
<path d="M560.86 102.54L563.61 107.14L558.11 107.14Z" fill="#000"/>
<path d="M563.39 115.45L566.14 120.05L560.64 120.05Z" fill="#000"/>
<path d="M565.92 129.72L568.67 134.32L563.17 134.32Z" fill="#000"/>
<path d="M568.45 143.99L571.2 148.59L565.7 148.59Z" fill="#000"/>
<path d="M570.97 160.97L573.72 165.57L568.22 165.57Z" fill="#000"/>
<path d="M573.5 178.64L576.25 183.24L570.75 183.24Z" fill="#000"/>
<path d="M575.96 157.3L578.71 161.9L573.21 161.9Z" fill="#000"/>
<path d="M578.41 136.38L581.16 140.98L575.66 140.98Z" fill="#000"/>
<path d="M580.87 122.65L583.62 127.25L578.12 127.25Z" fill="#000"/>
<path d="M583.32 106.88L586.07 111.48L580.57 111.48Z" fill="#000"/>
<path d="M585.78 93.16L588.53 97.76L583.03 97.76Z" fill="#000"/>
<path d="M588.23 75.76L590.98 80.36L585.48 80.36Z" fill="#000"/>
<path d="M590.69 61.77L593.44 66.37L587.94 66.37Z" fill="#000"/>
<path d="M593.14 50.89L595.89 55.49L590.39 55.49Z" fill="#000"/>
<path d="M595.6 42.74L598.35 47.34L592.85 47.34Z" fill="#000"/>
<path d="M598.05 46.14L600.8 50.74L595.3 50.74Z" fill="#000"/>
<path d="M600.51 51.57L603.26 56.17L597.76 56.17Z" fill="#000"/>
<path d="M602.96 60.41L605.71 65.01L600.21 65.01Z" fill="#000"/>
<path d="M605.42 74.68L608.17 79.28L602.67 79.28Z" fill="#000"/>
<path d="M607.87 88.27L610.62 92.87L605.12 92.87Z" fill="#000"/>
<path d="M610.33 102.54L613.08 107.14L607.58 107.14Z" fill="#000"/>
<path d="M612.78 115.45L615.53 120.05L610.03 120.05Z" fill="#000"/>
<path d="M615.24 129.72L617.99 134.32L612.49 134.32Z" fill="#000"/>
<path d="M617.69 143.99L620.44 148.59L614.94 148.59Z" fill="#000"/>
<path d="M620.15 160.97L622.9 165.57L617.4 165.57Z" fill="#000"/>
<path d="M622.6 178.64L625.35 183.24L619.85 183.24Z" fill="#000"/>
<path d="M625.16 157.3L627.91 161.9L622.41 161.9Z" fill="#000"/>
<path d="M627.71 136.38L630.46 140.98L624.96 140.98Z" fill="#000"/>
<path d="M630.27 122.65L633.02 127.25L627.52 127.25Z" fill="#000"/>
<path d="M632.82 106.88L635.57 111.48L630.07 111.48Z" fill="#000"/>
<path d="M635.38 93.16L638.13 97.76L632.63 97.76Z" fill="#000"/>
<path d="M637.93 75.76L640.68 80.36L635.18 80.36Z" fill="#000"/>
<path d="M640.49 61.77L643.24 66.37L637.74 66.37Z" fill="#000"/>
<path d="M643.04 50.89L645.79 55.49L640.29 55.49Z" fill="#000"/>
<path d="M645.6 42.74L648.35 47.34L642.85 47.34Z" fill="#000"/>
<path d="M398.9 48.6L402 48.6L404.43 56.8L406.87 65L409.3 73.2L411.73 81.4L414.17 89.6L416.6 97.8L419.03 106L421.47 114.2L423.9 122.4L426.39 117.81L428.88 107.82L431.37 101.99L433.86 91.2L436.34 84.56L438.83 75.67L441.32 66.63L443.81 58.18L446.3 49.5L448.82 52.95L451.34 55.14L453.85 58.59L456.37 66.36L458.89 75.16L461.41 83.8L463.93 92.75L466.45 101.91L468.96 109.24L471.48 116.06L474 122.8L476.47 118.18L478.93 108.14L481.4 102.28L483.87 91.43L486.33 84.76L488.8 75.81L491.27 66.73L493.73 58.22L496.2 49.5L498.69 52.95L501.18 55.14L503.67 58.59L506.16 66.36L508.65 75.16L511.15 83.8L513.64 92.75L516.13 101.91L518.62 109.24L521.11 116.06L523.6 122.8L526.06 118.18L528.51 108.14L530.97 102.28L533.42 91.43L535.88 84.76L538.33 75.81L540.79 66.73L543.24 58.22L545.7 49.5L548.23 52.91L550.75 55.09L553.28 58.5L555.81 66.2L558.34 74.91L560.86 83.48L563.39 92.33L565.92 101.41L568.45 108.67L570.97 115.42L573.5 122.1L575.96 117.53L578.41 107.58L580.87 101.77L583.32 91.03L585.78 84.42L588.23 75.56L590.69 66.56L593.14 58.14L595.6 49.5L598.05 52.91L600.51 55.09L602.96 58.5L605.42 66.2L607.87 74.91L610.33 83.48L612.78 92.33L615.24 101.41L617.69 108.67L620.15 115.42L622.6 122.1L625.16 117.53L627.71 107.58L630.27 101.77L632.82 91.03L635.38 84.42L637.93 75.56L640.49 66.56L643.04 58.14L645.6 49.5" fill="none" stroke="#0000ff" stroke-width="1.05" stroke-linejoin="round"/>
<rect x="396.95" y="46.65" width="3.9" height="3.9" fill="#0000ff"/>
<rect x="400.05" y="46.65" width="3.9" height="3.9" fill="#0000ff"/>
<rect x="402.48" y="54.85" width="3.9" height="3.9" fill="#0000ff"/>
<rect x="404.92" y="63.05" width="3.9" height="3.9" fill="#0000ff"/>
<rect x="407.35" y="71.25" width="3.9" height="3.9" fill="#0000ff"/>
<rect x="409.78" y="79.45" width="3.9" height="3.9" fill="#0000ff"/>
<rect x="412.22" y="87.65" width="3.9" height="3.9" fill="#0000ff"/>
<rect x="414.65" y="95.85" width="3.9" height="3.9" fill="#0000ff"/>
<rect x="417.08" y="104.05" width="3.9" height="3.9" fill="#0000ff"/>
<rect x="419.52" y="112.25" width="3.9" height="3.9" fill="#0000ff"/>
<rect x="421.95" y="120.45" width="3.9" height="3.9" fill="#0000ff"/>
<rect x="424.44" y="115.86" width="3.9" height="3.9" fill="#0000ff"/>
<rect x="426.93" y="105.87" width="3.9" height="3.9" fill="#0000ff"/>
<rect x="429.42" y="100.04" width="3.9" height="3.9" fill="#0000ff"/>
<rect x="431.91" y="89.25" width="3.9" height="3.9" fill="#0000ff"/>
<rect x="434.39" y="82.61" width="3.9" height="3.9" fill="#0000ff"/>
<rect x="436.88" y="73.72" width="3.9" height="3.9" fill="#0000ff"/>
<rect x="439.37" y="64.68" width="3.9" height="3.9" fill="#0000ff"/>
<rect x="441.86" y="56.23" width="3.9" height="3.9" fill="#0000ff"/>
<rect x="444.35" y="47.55" width="3.9" height="3.9" fill="#0000ff"/>
<rect x="446.87" y="51" width="3.9" height="3.9" fill="#0000ff"/>
<rect x="449.39" y="53.19" width="3.9" height="3.9" fill="#0000ff"/>
<rect x="451.9" y="56.64" width="3.9" height="3.9" fill="#0000ff"/>
<rect x="454.42" y="64.41" width="3.9" height="3.9" fill="#0000ff"/>
<rect x="456.94" y="73.2" width="3.9" height="3.9" fill="#0000ff"/>
<rect x="459.46" y="81.85" width="3.9" height="3.9" fill="#0000ff"/>
<rect x="461.98" y="90.8" width="3.9" height="3.9" fill="#0000ff"/>
<rect x="464.5" y="99.96" width="3.9" height="3.9" fill="#0000ff"/>
<rect x="467.01" y="107.29" width="3.9" height="3.9" fill="#0000ff"/>
<rect x="469.53" y="114.11" width="3.9" height="3.9" fill="#0000ff"/>
<rect x="472.05" y="120.85" width="3.9" height="3.9" fill="#0000ff"/>
<rect x="474.52" y="116.23" width="3.9" height="3.9" fill="#0000ff"/>
<rect x="476.98" y="106.19" width="3.9" height="3.9" fill="#0000ff"/>
<rect x="479.45" y="100.33" width="3.9" height="3.9" fill="#0000ff"/>
<rect x="481.92" y="89.48" width="3.9" height="3.9" fill="#0000ff"/>
<rect x="484.38" y="82.81" width="3.9" height="3.9" fill="#0000ff"/>
<rect x="486.85" y="73.86" width="3.9" height="3.9" fill="#0000ff"/>
<rect x="489.32" y="64.78" width="3.9" height="3.9" fill="#0000ff"/>
<rect x="491.78" y="56.27" width="3.9" height="3.9" fill="#0000ff"/>
<rect x="494.25" y="47.55" width="3.9" height="3.9" fill="#0000ff"/>
<rect x="496.74" y="51" width="3.9" height="3.9" fill="#0000ff"/>
<rect x="499.23" y="53.19" width="3.9" height="3.9" fill="#0000ff"/>
<rect x="501.72" y="56.64" width="3.9" height="3.9" fill="#0000ff"/>
<rect x="504.21" y="64.41" width="3.9" height="3.9" fill="#0000ff"/>
<rect x="506.7" y="73.2" width="3.9" height="3.9" fill="#0000ff"/>
<rect x="509.2" y="81.85" width="3.9" height="3.9" fill="#0000ff"/>
<rect x="511.69" y="90.8" width="3.9" height="3.9" fill="#0000ff"/>
<rect x="514.18" y="99.96" width="3.9" height="3.9" fill="#0000ff"/>
<rect x="516.67" y="107.29" width="3.9" height="3.9" fill="#0000ff"/>
<rect x="519.16" y="114.11" width="3.9" height="3.9" fill="#0000ff"/>
<rect x="521.65" y="120.85" width="3.9" height="3.9" fill="#0000ff"/>
<rect x="524.11" y="116.23" width="3.9" height="3.9" fill="#0000ff"/>
<rect x="526.56" y="106.19" width="3.9" height="3.9" fill="#0000ff"/>
<rect x="529.02" y="100.33" width="3.9" height="3.9" fill="#0000ff"/>
<rect x="531.47" y="89.48" width="3.9" height="3.9" fill="#0000ff"/>
<rect x="533.93" y="82.81" width="3.9" height="3.9" fill="#0000ff"/>
<rect x="536.38" y="73.86" width="3.9" height="3.9" fill="#0000ff"/>
<rect x="538.84" y="64.78" width="3.9" height="3.9" fill="#0000ff"/>
<rect x="541.29" y="56.27" width="3.9" height="3.9" fill="#0000ff"/>
<rect x="543.75" y="47.55" width="3.9" height="3.9" fill="#0000ff"/>
<rect x="546.28" y="50.96" width="3.9" height="3.9" fill="#0000ff"/>
<rect x="548.8" y="53.14" width="3.9" height="3.9" fill="#0000ff"/>
<rect x="551.33" y="56.55" width="3.9" height="3.9" fill="#0000ff"/>
<rect x="553.86" y="64.25" width="3.9" height="3.9" fill="#0000ff"/>
<rect x="556.39" y="72.96" width="3.9" height="3.9" fill="#0000ff"/>
<rect x="558.91" y="81.53" width="3.9" height="3.9" fill="#0000ff"/>
<rect x="561.44" y="90.38" width="3.9" height="3.9" fill="#0000ff"/>
<rect x="563.97" y="99.46" width="3.9" height="3.9" fill="#0000ff"/>
<rect x="566.5" y="106.72" width="3.9" height="3.9" fill="#0000ff"/>
<rect x="569.02" y="113.47" width="3.9" height="3.9" fill="#0000ff"/>
<rect x="571.55" y="120.15" width="3.9" height="3.9" fill="#0000ff"/>
<rect x="574.01" y="115.58" width="3.9" height="3.9" fill="#0000ff"/>
<rect x="576.46" y="105.63" width="3.9" height="3.9" fill="#0000ff"/>
<rect x="578.92" y="99.82" width="3.9" height="3.9" fill="#0000ff"/>
<rect x="581.37" y="89.08" width="3.9" height="3.9" fill="#0000ff"/>
<rect x="583.83" y="82.47" width="3.9" height="3.9" fill="#0000ff"/>
<rect x="586.28" y="73.61" width="3.9" height="3.9" fill="#0000ff"/>
<rect x="588.74" y="64.61" width="3.9" height="3.9" fill="#0000ff"/>
<rect x="591.19" y="56.19" width="3.9" height="3.9" fill="#0000ff"/>
<rect x="593.65" y="47.55" width="3.9" height="3.9" fill="#0000ff"/>
<rect x="596.1" y="50.96" width="3.9" height="3.9" fill="#0000ff"/>
<rect x="598.56" y="53.14" width="3.9" height="3.9" fill="#0000ff"/>
<rect x="601.01" y="56.55" width="3.9" height="3.9" fill="#0000ff"/>
<rect x="603.47" y="64.25" width="3.9" height="3.9" fill="#0000ff"/>
<rect x="605.92" y="72.96" width="3.9" height="3.9" fill="#0000ff"/>
<rect x="608.38" y="81.53" width="3.9" height="3.9" fill="#0000ff"/>
<rect x="610.83" y="90.38" width="3.9" height="3.9" fill="#0000ff"/>
<rect x="613.29" y="99.46" width="3.9" height="3.9" fill="#0000ff"/>
<rect x="615.74" y="106.72" width="3.9" height="3.9" fill="#0000ff"/>
<rect x="618.2" y="113.47" width="3.9" height="3.9" fill="#0000ff"/>
<rect x="620.65" y="120.15" width="3.9" height="3.9" fill="#0000ff"/>
<rect x="623.21" y="115.58" width="3.9" height="3.9" fill="#0000ff"/>
<rect x="625.76" y="105.63" width="3.9" height="3.9" fill="#0000ff"/>
<rect x="628.32" y="99.82" width="3.9" height="3.9" fill="#0000ff"/>
<rect x="630.87" y="89.08" width="3.9" height="3.9" fill="#0000ff"/>
<rect x="633.43" y="82.47" width="3.9" height="3.9" fill="#0000ff"/>
<rect x="635.98" y="73.61" width="3.9" height="3.9" fill="#0000ff"/>
<rect x="638.54" y="64.61" width="3.9" height="3.9" fill="#0000ff"/>
<rect x="641.09" y="56.19" width="3.9" height="3.9" fill="#0000ff"/>
<rect x="643.65" y="47.55" width="3.9" height="3.9" fill="#0000ff"/>
<rect x="524.8" y="184.6" width="130.60000000000002" height="43.5" fill="#fff" stroke="#b4b4b4" stroke-width="1"/>
<line x1="527.1" y1="192.9" x2="553.3" y2="192.9" stroke="#000" stroke-width="1.1"/>
<path d="M540.4 190.14L543.15 194.74L537.65 194.74Z" fill="#000"/>
<text x="556.4" y="196.8" font-size="10.8" text-anchor="start" fill="#000" stroke="#000" >m(CNT):m(PVA)=1</text>
<line x1="527.1" y1="207.25" x2="553.3" y2="207.25" stroke="#ff0000" stroke-width="1.1"/>
<circle cx="540.4" cy="207.25" r="2.1" fill="#ff0000"/>
<text x="556.4" y="211.15" font-size="10.8" text-anchor="start" fill="#000" stroke="#000" >m(CNT):m(PVA)=0.5</text>
<line x1="527.1" y1="221.6" x2="553.3" y2="221.6" stroke="#0000ff" stroke-width="1.1"/>
<rect x="538.45" y="219.65" width="3.9" height="3.9" fill="#0000ff"/>
<text x="556.4" y="225.5" font-size="10.8" text-anchor="start" fill="#000" stroke="#000" >m(CNT):m(PVA)=0.2</text>
<rect x="384.8" y="30.0" width="273.2" height="203.2" fill="none" stroke="#000" stroke-width="1.4"/>
<line x1="380.2" y1="44.8" x2="384.8" y2="44.8" stroke="#000" stroke-width="1.3"/>
<text x="377.7" y="48.4" font-size="10.6" text-anchor="end" fill="#000" stroke="#000" >0</text>
<line x1="380.2" y1="73.72" x2="384.8" y2="73.72" stroke="#000" stroke-width="1.3"/>
<text x="377.7" y="77.32" font-size="10.6" text-anchor="end" fill="#000" stroke="#000" >-10</text>
<line x1="380.2" y1="102.64" x2="384.8" y2="102.64" stroke="#000" stroke-width="1.3"/>
<text x="377.7" y="106.24" font-size="10.6" text-anchor="end" fill="#000" stroke="#000" >-20</text>
<line x1="380.2" y1="131.56" x2="384.8" y2="131.56" stroke="#000" stroke-width="1.3"/>
<text x="377.7" y="135.16" font-size="10.6" text-anchor="end" fill="#000" stroke="#000" >-30</text>
<line x1="380.2" y1="160.48" x2="384.8" y2="160.48" stroke="#000" stroke-width="1.3"/>
<text x="377.7" y="164.08" font-size="10.6" text-anchor="end" fill="#000" stroke="#000" >-40</text>
<line x1="380.2" y1="189.4" x2="384.8" y2="189.4" stroke="#000" stroke-width="1.3"/>
<text x="377.7" y="193" font-size="10.6" text-anchor="end" fill="#000" stroke="#000" >-50</text>
<line x1="380.2" y1="218.32" x2="384.8" y2="218.32" stroke="#000" stroke-width="1.3"/>
<text x="377.7" y="221.92" font-size="10.6" text-anchor="end" fill="#000" stroke="#000" >-60</text>
<line x1="382.2" y1="59.26" x2="384.8" y2="59.26" stroke="#000" stroke-width="1.3"/>
<line x1="382.2" y1="88.18" x2="384.8" y2="88.18" stroke="#000" stroke-width="1.3"/>
<line x1="382.2" y1="117.1" x2="384.8" y2="117.1" stroke="#000" stroke-width="1.3"/>
<line x1="382.2" y1="146.02" x2="384.8" y2="146.02" stroke="#000" stroke-width="1.3"/>
<line x1="382.2" y1="174.94" x2="384.8" y2="174.94" stroke="#000" stroke-width="1.3"/>
<line x1="382.2" y1="203.86" x2="384.8" y2="203.86" stroke="#000" stroke-width="1.3"/>
<line x1="382.2" y1="30" x2="384.8" y2="30" stroke="#000" stroke-width="1.4"/>
<line x1="382.2" y1="233.2" x2="384.8" y2="233.2" stroke="#000" stroke-width="1.4"/>
<line x1="396.9" y1="30" x2="396.9" y2="25.7" stroke="#000" stroke-width="1.3"/>
<text x="397.2" y="22" font-size="10.6" text-anchor="middle" fill="#000" stroke="#000" >0</text>
<line x1="421.74" y1="30" x2="421.74" y2="27.2" stroke="#000" stroke-width="1.3"/>
<text x="422.04" y="22" font-size="10.6" text-anchor="middle" fill="#000" stroke="#000" >5</text>
<line x1="446.58" y1="30" x2="446.58" y2="25.7" stroke="#000" stroke-width="1.3"/>
<text x="446.88" y="22" font-size="10.6" text-anchor="middle" fill="#000" stroke="#000" >0</text>
<line x1="471.42" y1="30" x2="471.42" y2="27.2" stroke="#000" stroke-width="1.3"/>
<text x="471.72" y="22" font-size="10.6" text-anchor="middle" fill="#000" stroke="#000" >5</text>
<line x1="496.26" y1="30" x2="496.26" y2="25.7" stroke="#000" stroke-width="1.3"/>
<text x="496.56" y="22" font-size="10.6" text-anchor="middle" fill="#000" stroke="#000" >0</text>
<line x1="521.1" y1="30" x2="521.1" y2="27.2" stroke="#000" stroke-width="1.3"/>
<text x="521.4" y="22" font-size="10.6" text-anchor="middle" fill="#000" stroke="#000" >5</text>
<line x1="545.94" y1="30" x2="545.94" y2="25.7" stroke="#000" stroke-width="1.3"/>
<text x="546.24" y="22" font-size="10.6" text-anchor="middle" fill="#000" stroke="#000" >0</text>
<line x1="570.78" y1="30" x2="570.78" y2="27.2" stroke="#000" stroke-width="1.3"/>
<text x="571.08" y="22" font-size="10.6" text-anchor="middle" fill="#000" stroke="#000" >5</text>
<line x1="595.62" y1="30" x2="595.62" y2="25.7" stroke="#000" stroke-width="1.3"/>
<text x="595.92" y="22" font-size="10.6" text-anchor="middle" fill="#000" stroke="#000" >0</text>
<line x1="620.46" y1="30" x2="620.46" y2="27.2" stroke="#000" stroke-width="1.3"/>
<text x="620.76" y="22" font-size="10.6" text-anchor="middle" fill="#000" stroke="#000" >5</text>
<line x1="645.3" y1="30" x2="645.3" y2="25.7" stroke="#000" stroke-width="1.3"/>
<text x="645.6" y="22" font-size="10.6" text-anchor="middle" fill="#000" stroke="#000" >0</text>
<text x="477.2" y="8.9" font-size="11.6" text-anchor="start" fill="#000" stroke="#000" >Displacement (mm)</text>
<text x="341" y="45.9" font-size="19.3" text-anchor="start" fill="#000" stroke="#000" >(b)</text>
<text transform="translate(353.2,159.8) rotate(-90)" font-size="12.2" stroke="#000"><tspan font-size="10.6">Δ</tspan><tspan dx="0.9">R/R</tspan><tspan font-size="7.2" dy="3.1">0</tspan><tspan dy="-3.1" dx="2.2"> (%)</tspan></text>
<text x="393.4" y="169.7" font-size="12.2" text-anchor="start" fill="#ff0000" stroke="#ff0000" >-44.1</text>
<text x="414.4" y="198" font-size="12.2" text-anchor="start" fill="#000" stroke="#000" >-48.2</text>
<text x="437" y="131.8" font-size="12.2" text-anchor="start" fill="#0000ff" stroke="#0000ff" >-26.9</text>
</svg></body></html>
